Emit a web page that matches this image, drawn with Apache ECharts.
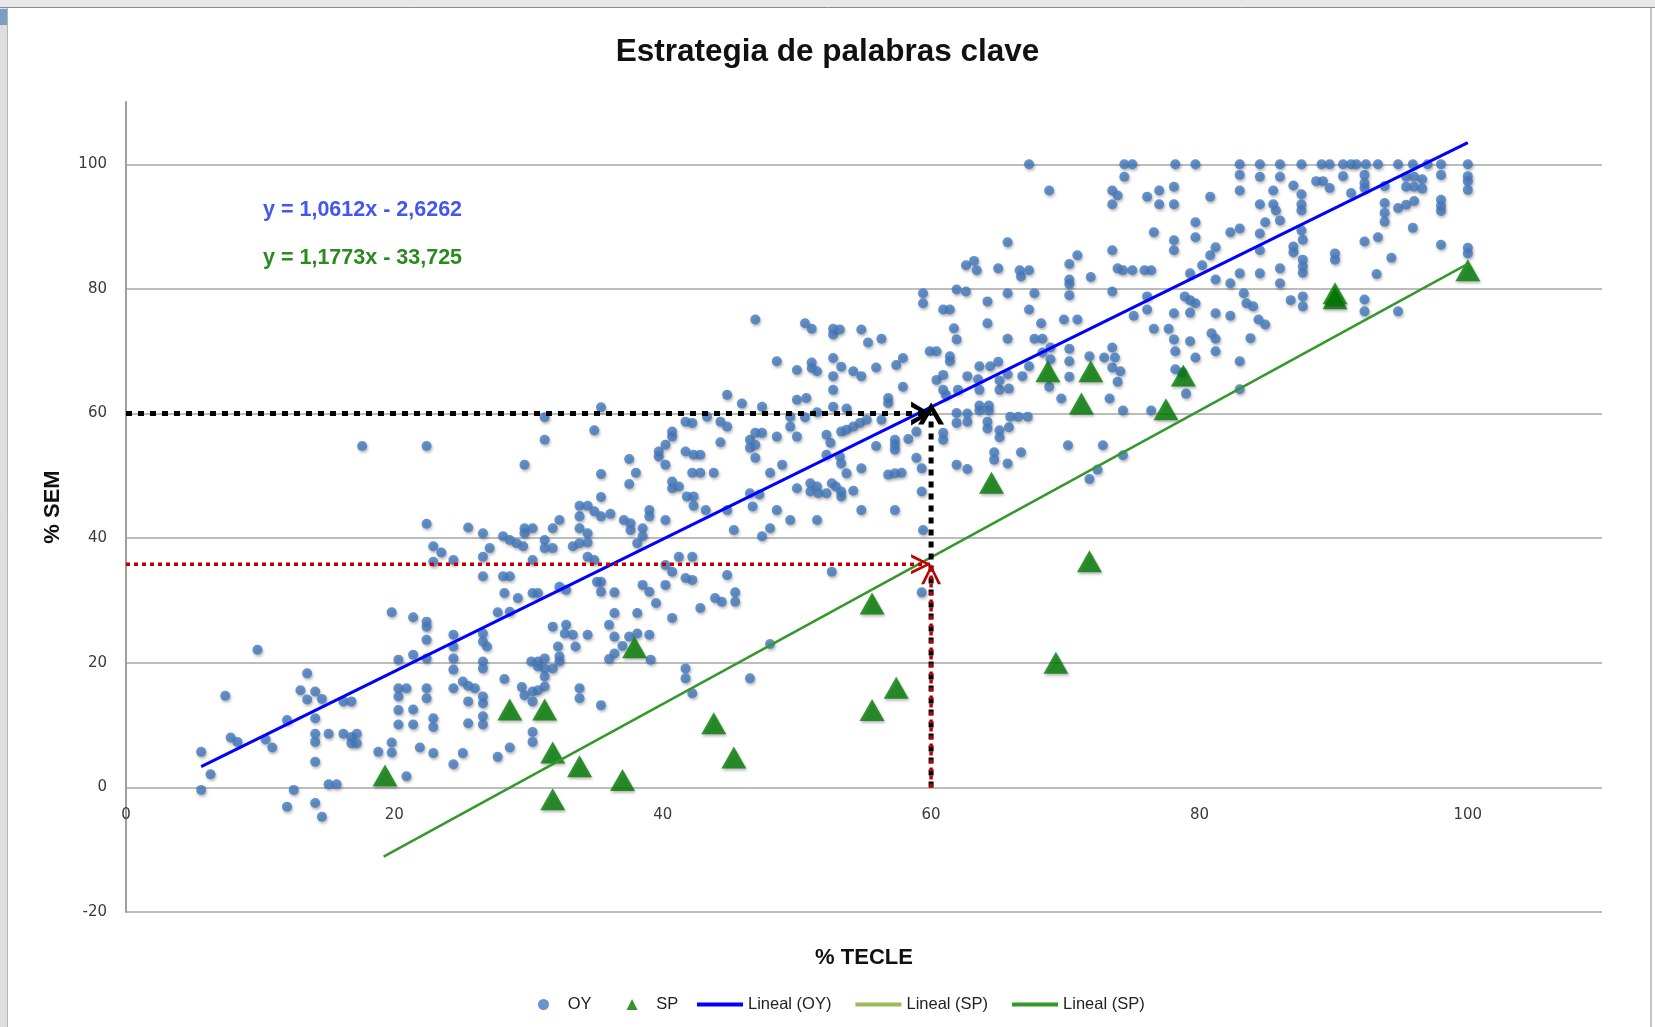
<!DOCTYPE html>
<html>
<head>
<meta charset="utf-8">
<title>Estrategia de palabras clave</title>
<script src="https://cdn.jsdelivr.net/npm/echarts@6/dist/echarts.min.js"></script>
<style>
  html, body { margin: 0; padding: 0; background: #fff; }
  #chart { width: 1655px; height: 1027px; }
</style>
</head>
<body>
<div id="chart"></div>
<script>
// puntos OY (% TECLE, % SEM)
const oyPoints = [
  [5.6,5.7],[6.3,2.1],[5.6,-0.4],[7.4,14.7],[7.8,8.0],[8.3,7.3],[9.8,22.1],[10.4,7.7],[10.9,6.4],[12.0,10.8],[12.0,-3.1],[12.5,-0.4],
  [13.0,15.6],[13.5,18.3],[13.5,14.1],[14.1,15.4],[14.1,11.1],[14.1,8.6],[14.1,7.3],[14.1,4.1],[14.1,-2.5],[14.6,-4.7],[14.6,14.2],
  [15.1,8.6],[15.1,0.5],[15.7,0.5],[16.2,13.8],[16.8,13.8],[16.2,8.6],[16.8,8.1],[17.2,8.6],[16.8,7.1],[17.2,7.1],[17.6,54.8],
  [18.8,5.7],[19.8,7.2],[19.8,5.6],[19.8,28.1],
  [20.9,1.8],[21.4,27.3],[21.9,6.4],[21.4,12.5],[21.4,10.1],[20.3,20.5],[20.3,15.9],[20.3,14.6],[20.3,12.4],[20.3,10.1],[20.9,15.9],
  [21.4,21.3],[22.4,26.6],[22.4,25.8],[22.4,23.7],[22.4,20.7],[22.4,15.9],[22.4,14.3],[22.9,11.1],[22.9,9.7],[22.9,5.5],[22.4,54.8],
  [22.4,42.3],[22.9,38.7],[23.5,37.7],[22.9,36.2],[24.4,36.5],[24.4,24.5],[24.4,22.6],[24.4,20.7],[24.4,18.9],[24.4,15.9],[24.4,3.7],
  [25.1,5.5],[25.1,17.0],[25.5,16.3],[26.0,15.9],[25.5,13.8],[25.5,10.3],[25.5,41.7],[26.6,40.8],[26.6,37.0],[27.1,38.4],[26.6,33.9],
  [26.6,20.2],[26.6,19.1],[26.6,14.6],[26.6,13.5],[26.6,11.4],[26.6,10.1],[26.6,24.7],[26.6,23.4],[26.9,22.6],[27.7,28.1],[28.2,31.2],
  [28.6,28.2],[29.2,30.4],[28.2,17.4],[27.7,4.9],[28.6,6.4],[28.1,40.3],[28.6,39.7],[29.1,39.2],[29.6,38.7],[28.1,33.9],[28.6,33.9],
  [29.5,16.1],[29.7,14.8],[29.7,51.8],[29.7,41.6],[29.7,40.8],
  [30.3,41.6],[30.3,36.5],[30.3,15.4],[30.3,13.8],[30.3,8.9],[30.3,7.3],[30.2,20.2],[30.7,20.2],[31.2,20.7],[30.7,19.4],[31.2,19.1],
  [31.8,19.1],[31.2,17.8],[31.2,16.2],[30.7,15.6],[30.3,31.2],[30.7,31.2],[31.2,59.4],[31.2,55.8],[31.2,39.7],[31.2,38.4],[31.8,38.4],
  [31.8,41.6],[31.8,25.8],[32.3,42.9],[32.3,32.2],[32.8,31.7],[32.8,26.1],[32.7,24.7],[33.3,24.5],[32.2,22.6],[32.3,21.0],[33.5,22.6],
  [32.3,20.2],[33.3,38.7],[33.8,39.2],[33.8,41.6],[33.8,43.5],[33.8,45.2],[33.8,15.9],[33.8,14.3],[34.4,24.5],[34.4,45.2],[34.9,44.3],
  [34.4,40.8],[34.4,39.3],[34.4,37.0],[34.9,36.5],[34.9,57.3],[35.1,33.0],[35.4,61.0],[35.4,50.3],[35.4,46.6],[35.4,43.5],[35.4,33.0],
  [35.4,31.4],[35.4,13.2],[36.1,43.9],[36.4,31.3],[36.4,28.0],[36.0,26.1],[36.4,24.2],[36.4,21.5],[36.0,20.6],
  [37.0,22.7],[37.5,24.2],[38.1,24.7],[38.1,28.0],[38.5,32.5],[39.0,31.4],[39.0,24.5],[39.1,20.5],[39.5,29.6],[37.5,52.7],[38.0,50.5],
  [37.5,48.7],[37.1,42.9],[37.6,42.4],[37.6,41.3],[39.0,44.5],[39.0,43.5],[38.5,41.6],[38.5,40.3],[38.1,39.2],[40.2,42.9],[39.7,53.9],
  [40.2,55.0],[39.7,53.1],[40.2,51.8],[40.7,57.1],[40.7,56.3],[40.7,49.1],[40.7,48.0],[41.2,48.3],[40.2,35.7],[40.7,34.6],[40.2,32.5],
  [40.7,27.2],[41.2,37.0],[41.7,33.6],[41.7,19.1],[41.7,17.5],[41.8,46.7],[41.7,53.9],[41.7,58.7],[42.2,58.5],[42.2,50.5],[42.2,37.0],
  [42.2,33.3],[42.2,15.1],[42.3,46.7],[42.3,45.2],[42.3,53.4],[42.8,53.4],[42.8,50.5],[42.8,28.8],[43.2,44.5],[43.3,59.5],[43.8,50.5],
  [43.9,30.4],[44.3,55.4],[44.3,58.7],[44.4,29.8],[44.8,57.9],[44.8,63.0],[44.8,44.5],[44.8,34.1],
  [45.3,41.3],[45.4,31.3],[45.4,29.8],[45.9,61.6],[46.5,55.8],[46.5,54.5],[46.5,47.2],[46.5,17.5],[46.7,45.1],[46.9,56.9],[46.9,55.0],
  [46.9,52.9],[46.9,75.1],[47.2,47.0],[47.4,56.9],[47.4,61.1],[47.4,40.3],[48.0,50.5],[48.0,41.6],[48.0,23.0],[48.5,68.4],[48.5,56.3],
  [48.5,44.5],[48.9,51.8],[49.5,42.9],[49.5,59.5],[49.5,57.9],[50.0,62.2],[50.7,62.5],[50.0,67.0],[50.0,56.3],[50.0,48.0],[50.6,74.5],
  [51.1,73.6],[50.6,59.4],[51.1,68.2],[51.1,67.3],[51.5,66.8],[51.0,48.8],[51.0,47.5],[51.5,48.3],[51.6,47.2],[51.5,42.9],[51.5,60.2],
  [52.2,56.6],[52.2,53.4],[52.5,55.3],[52.2,47.2],[52.7,73.6],[52.7,72.7],[53.2,73.5],[52.7,68.9],[52.7,66.0],[52.7,63.8],[52.7,61.1],
  [52.6,48.8],[52.9,48.3],[52.6,34.6],[53.3,67.5],[53.3,57.1],[53.7,57.4],[54.2,57.9],[54.7,58.5],[55.2,59.0],[53.2,53.1],[53.3,52.0],
  [53.7,50.4],[53.3,47.5],[53.3,46.7],[53.7,60.8],[54.2,66.8],[54.8,66.0],[54.2,47.6],[54.8,73.5],[54.8,51.2],[54.8,44.5],
  [55.3,71.4],[55.9,67.4],[55.9,54.8],[56.3,72.0],[56.3,59.0],[56.8,62.5],[56.8,61.7],[57.3,55.8],[57.3,55.0],[57.3,54.2],[57.3,44.5],
  [56.8,50.2],[57.3,50.4],[57.8,50.5],[57.4,67.8],[57.9,68.9],[57.9,64.3],[58.3,55.9],[58.9,57.1],[58.9,52.9],[59.3,51.2],[59.3,47.5],
  [59.4,41.3],[59.3,31.3],[59.4,79.3],[59.4,77.7],[59.9,70.0],[60.4,70.0],[60.4,65.4],[60.9,66.2],[60.9,76.7],[61.4,76.7],[60.9,63.8],
  [60.9,56.9],[60.9,55.8],[61.9,79.9],[61.9,71.9],[61.4,69.2],[61.4,68.4],[61.9,60.1],[61.9,58.5],[61.9,51.8],[61.1,63.0],[62.0,63.8],
  [61.7,73.7],
  [62.7,60.0],[62.7,58.7],[62.7,51.1],[62.7,66.0],[62.6,79.6],[62.6,83.8],[63.2,84.5],[63.4,83.0],[63.5,65.5],[63.6,67.6],[63.6,63.8],
  [63.6,61.3],[64.3,61.3],[63.6,60.5],[64.3,60.5],[64.2,58.7],[64.2,57.6],[64.2,78.0],[64.2,74.5],[64.4,67.6],[64.7,53.8],[64.7,52.6],
  [65.0,83.3],[65.0,68.3],[65.1,63.8],[65.1,65.3],[65.1,57.3],[65.1,56.2],[65.7,52.0],[65.7,79.3],[65.7,72.0],[65.7,66.3],[65.7,87.5],
  [65.8,64.0],[65.8,57.8],[65.9,59.5],[66.5,59.5],[66.6,83.0],[66.7,82.0],[66.7,53.8],[66.8,66.0],[67.2,59.5],[67.3,83.0],[67.3,76.7],
  [67.3,67.6],[67.3,100],[67.7,79.3],[67.7,72.0],[68.2,74.5],[68.3,72.0],[68.3,69.8],[68.8,95.8],[68.8,64.3],[68.9,70.6],[68.9,68.7],
  [69.7,62.4],[69.9,75.1],
  [70.2,54.9],[70.3,84.0],[70.3,81.5],[70.3,80.8],[70.3,79.0],[70.3,70.4],[70.3,68.4],[70.3,65.9],[70.9,85.4],[70.9,75.1],[71.8,69.2],
  [71.8,49.5],[71.9,81.9],[72.4,51.0],[72.8,54.9],[72.9,69.0],[73.3,62.4],[73.5,95.8],[73.9,95.0],[73.5,93.6],[73.5,86.2],[73.5,79.6],
  [73.5,70.6],[73.5,67.4],[73.7,69.0],[73.9,83.3],[73.9,65.1],[74.1,66.8],[74.3,83.0],[74.3,60.5],[74.3,53.3],[74.4,100],[74.4,98.0],
  [75.0,100],[75.0,83.0],[75.1,75.7],[75.9,83.0],[76.1,94.8],[76.1,78.8],[76.1,76.7],[76.4,83.0],[76.4,60.5],[76.6,89.1],[76.6,73.6],
  [77.0,95.8],[77.0,93.6],[77.7,73.6],[78.1,96.4],[78.1,93.6],[78.1,87.8],[78.1,86.2],[78.1,76.1],[78.1,71.9],[78.2,100],[78.2,70.0],
  [78.2,67.1],[78.7,66.6],[78.9,78.8],[79.0,63.2],[79.3,82.5],[79.3,78.2],[79.3,76.2],[79.3,71.6],[79.7,100],[79.7,90.7],[79.7,88.3],
  [79.7,77.7],[79.7,69.0],
  [80.2,83.8],[80.8,94.8],[80.8,85.4],[80.9,72.9],[81.2,86.7],[81.2,81.5],[81.2,76.1],[81.2,72.0],[81.2,70.0],[82.3,89.1],[82.3,80.9],
  [82.3,75.7],[83.0,100],[83.0,98.3],[83.0,95.8],[83.0,89.7],[83.0,82.5],[83.0,68.4],[83.0,63.9],[83.3,79.3],[83.5,77.7],[83.8,72.1],
  [84.0,77.2],[84.4,75.1],[84.5,100],[84.5,98.0],[84.5,93.6],[84.5,88.9],[84.5,86.2],[84.5,82.5],[84.9,90.7],[84.9,74.3],[85.5,95.8],
  [85.5,93.6],[85.7,92.6],[86.0,100],[86.0,98.0],[86.0,91.0],[86.0,83.3],[86.0,80.9],[86.8,78.2],[87.0,96.6],[87.0,86.8],[87.0,85.9],
  [87.6,100],[87.6,95.2],[87.6,93.6],[87.6,92.6],[87.6,89.4],[87.7,87.9],[87.7,84.7],[87.7,83.6],[87.7,82.6],[87.7,78.8],[87.7,77.2],
  [88.7,97.3],[89.1,100],[89.2,97.3],[89.7,100],[89.7,96.2],[90.1,85.7],[90.1,84.7],[90.7,100],[90.7,98.1],[91.3,100],[91.3,95.4],
  [91.7,100],[92.3,98.3],[92.3,97.0],[92.3,96.2],[92.3,87.6],[92.3,78.3],[92.3,76.4],[92.4,100],[93.2,82.4],[93.3,100],[93.3,88.3],
  [93.8,96.5],[93.8,93.8],[93.8,92.2],[93.8,90.8],[94.3,85.0],[94.8,100],[94.8,93.0],[94.8,76.4],[95.4,98.0],[95.4,96.4],[95.4,93.5],
  [95.9,100],[95.9,89.8],[96.0,98.0],[96.0,96.4],[96.0,94.1],[96.6,97.6],[96.6,96.1],[97.0,100],[98.0,100],[98.0,98.3],[98.0,94.3],
  [98.0,93.3],[98.0,92.5],[98.0,87.1],[100,100],[100,98.1],[100,97.3],[100,95.9],[100,86.6],[100,85.7]
];

// puntos SP
const spPoints = [
  [19.3,1.9],[28.6,12.5],[31.2,12.5],[31.8,5.6],[31.8,-1.9],[33.8,3.4],[37.0,1.2],[37.9,22.5],[43.8,10.3],[45.3,4.8],
  [55.6,29.5],[55.6,12.4],[57.4,16.0],[64.5,48.9],[68.7,66.8],[69.3,20.0],[71.2,61.6],[71.9,66.8],[71.8,36.3],[77.5,60.7],
  [78.8,66.1],[90.1,78.5],[90.1,79.3],[100,83.0]
];

// líneas de tendencia y = a·x + b
const trendSlope = [1.0612, 1.1773];
const trendIntercept = [-2.6262, -33.725];
const trendFrom = [5.6, 19.2];
const trendTo = [100, 100];
const trendLabels = ['y = 1,0612x - 2,6262', 'y = 1,1773x - 33,725'];

// flechas de lectura
const guideX = 60;
const guideBlackY = 60;
const guideRedY = 35.8;

const trendLine = i => [
  [trendFrom[i], trendSlope[i] * trendFrom[i] + trendIntercept[i]],
  [trendTo[i], trendSlope[i] * trendTo[i] + trendIntercept[i]]
];

const chevronRightBlack = 'path://M0,0 L20,12 L0,24 L0,18.5 L12.5,12 L0,5.5 Z';
const chevronUpBlack = 'path://M0,22 L13,0 L26,22 L20.5,22 L13,9 L5.5,22 Z';
const chevronRightRed = 'path://M0,0 L20,10 L0,20 L0,16.8 L14.5,10 L0,3.2 Z';
const chevronUpRed = 'path://M0,20 L10,0 L20,20 L16.8,20 L10,5.5 L3.2,20 Z';

const guide = (from, to, color, width, dash, tip, tipSize, tipOffset) => ({
  type: 'line',
  silent: true,
  z: 10,
  data: [
    { value: from, symbol: 'none' },
    { value: to, symbol: tip, symbolSize: tipSize, symbolOffset: tipOffset, itemStyle: { color: color } }
  ],
  lineStyle: { color: color, width: width, type: dash, cap: 'butt' }
})

const chart = echarts.init(document.getElementById('chart'))

const shadow = {
  shadowBlur: 3,
  shadowColor: 'rgba(0,0,0,0.35)',
  shadowOffsetX: 1,
  shadowOffsetY: 2
}

const legendText = { fontFamily: 'Liberation Sans', fontSize: 16.5, color: '#222' }

const option = {
  animation: false,
  backgroundColor: '#fff',
  title: {
    text: 'Estrategia de palabras clave',
    left: 'center',
    top: 31,
    textStyle: { fontFamily: 'Liberation Sans', fontSize: 31.5, fontWeight: 'bold', color: '#111' }
  },
  grid: { left: 126, right: 53, top: 102, bottom: 115, outerBoundsMode: 'none', containLabel: false },
  xAxis: {
    type: 'value',
    min: 0,
    max: 110,
    interval: 20,
    // el eje queda abajo (-20); las etiquetas suben hasta la línea del 0
    axisLine: { show: false },
    axisTick: { show: false },
    splitLine: { show: false },
    axisLabel: { fontFamily: 'DejaVu Sans', fontSize: 15, color: '#3a3a3a', margin: -104, showMaxLabel: false },
    name: '% TECLE',
    nameLocation: 'middle',
    nameGap: 35,
    nameTextStyle: { fontFamily: 'Liberation Sans', fontSize: 22, fontWeight: 'bold', color: '#111' }
  },
  yAxis: {
    type: 'value',
    min: -20,
    max: 110,
    interval: 20,
    axisLine: { show: true, onZero: false, lineStyle: { color: '#a0a0a0', width: 2 } },
    axisTick: { show: false },
    splitLine: { show: true, showMaxLine: false, lineStyle: { color: '#a6a6a6', width: 1.5 } },
    axisLabel: { fontFamily: 'DejaVu Sans', fontSize: 15, color: '#3a3a3a', margin: 19, showMaxLabel: false },
    name: '% SEM',
    nameLocation: 'middle',
    nameRotate: 90,
    nameGap: 62,
    nameTextStyle: { fontFamily: 'Liberation Sans', fontSize: 22, fontWeight: 'bold', color: '#111' }
  },
  legend: [
    {
      data: [{ name: 'OY', icon: 'circle' }, { name: 'SP', icon: 'triangle' }],
      formatter: name => '   ' + name,
      left: 533,
      top: 991,
      itemWidth: 11,
      itemHeight: 11,
      itemGap: 35,
      selectedMode: false,
      textStyle: legendText
    },
    {
      data: ['Lineal (OY)', 'Lineal (SP)', 'Lineal (SP) '],
      formatter: name => name.trim(),
      icon: 'rect',
      left: 692,
      top: 991,
      itemWidth: 46,
      itemHeight: 4,
      itemGap: 24,
      selectedMode: false,
      textStyle: legendText
    }
  ],
  graphic: [
    // marco de la captura
    { type: 'rect', shape: { x: 0, y: 0, width: 1655, height: 7 }, style: { fill: '#e8e8e8' }, silent: true },
    { type: 'line', shape: { x1: 0, y1: 7.5, x2: 1655, y2: 7.5 }, style: { stroke: '#8a8a8a', lineWidth: 1 }, silent: true },
    { type: 'rect', shape: { x: 0, y: 8, width: 7, height: 1019 }, style: { fill: '#dedede' }, silent: true },
    { type: 'rect', shape: { x: 0, y: 9, width: 7, height: 16 }, style: { fill: '#7b9cc4' }, silent: true },
    { type: 'line', shape: { x1: 7.5, y1: 8, x2: 7.5, y2: 1027 }, style: { stroke: '#b5b5b5', lineWidth: 1 }, silent: true },
    { type: 'line', shape: { x1: 1651, y1: 8, x2: 1651, y2: 1027 }, style: { stroke: '#c4c4c4', lineWidth: 2 }, silent: true },
    // ecuaciones
    {
      type: 'text', left: 263, top: 199, silent: true,
      style: { text: trendLabels[0], fill: '#4257f2', font: 'bold 21.5px "Liberation Sans"' }
    },
    {
      type: 'text', left: 263, top: 247, silent: true,
      style: { text: trendLabels[1], fill: '#2b8a1f', font: 'bold 21.5px "Liberation Sans"' }
    }
  ],
  series: [
    {
      name: 'OY',
      type: 'scatter',
      data: oyPoints,
      symbol: 'circle',
      symbolSize: 10,
      progressive: 0,
      itemStyle: Object.assign({ color: '#4479be' }, shadow),
      z: 2
    },
    {
      name: 'SP',
      type: 'scatter',
      data: spPoints,
      symbol: 'triangle',
      symbolSize: [25, 22],
      progressive: 0,
      itemStyle: Object.assign({ color: '#007a00' }, shadow),
      z: 3
    },
    {
      name: 'Lineal (OY)',
      type: 'line',
      data: trendLine(0),
      symbol: 'none',
      silent: true,
      color: '#0000ff',
      lineStyle: { color: '#0000ff', width: 3 },
      z: 4
    },
    {
      name: 'Lineal (SP)',
      type: 'line',
      data: [],
      symbol: 'none',
      color: '#9bbb59',
      lineStyle: { color: '#9bbb59', width: 3 }
    },
    {
      name: 'Lineal (SP) ',
      type: 'line',
      data: trendLine(1),
      symbol: 'none',
      silent: true,
      color: '#34982a',
      lineStyle: { color: '#34982a', width: 2.5 },
      z: 4
    },
    guide([0, guideBlackY], [guideX, guideBlackY], '#000', 5, [6, 6], chevronRightBlack, [20, 24], [-10, 0]),
    guide([guideX, 0], [guideX, guideBlackY], '#000', 5, [6, 6], chevronUpBlack, [26, 22], [0, 0]),
    guide([0, guideRedY], [guideX, guideRedY], '#c00000', 3.5, [4, 4], chevronRightRed, [20, 20], [-10, 0]),
    guide([guideX, 0], [guideX, guideRedY], '#c00000', 3.5, [4, 4], chevronUpRed, [20, 20], [0, 10])
  ]
}

chart.setOption(option)
</script>
</body>
</html>
